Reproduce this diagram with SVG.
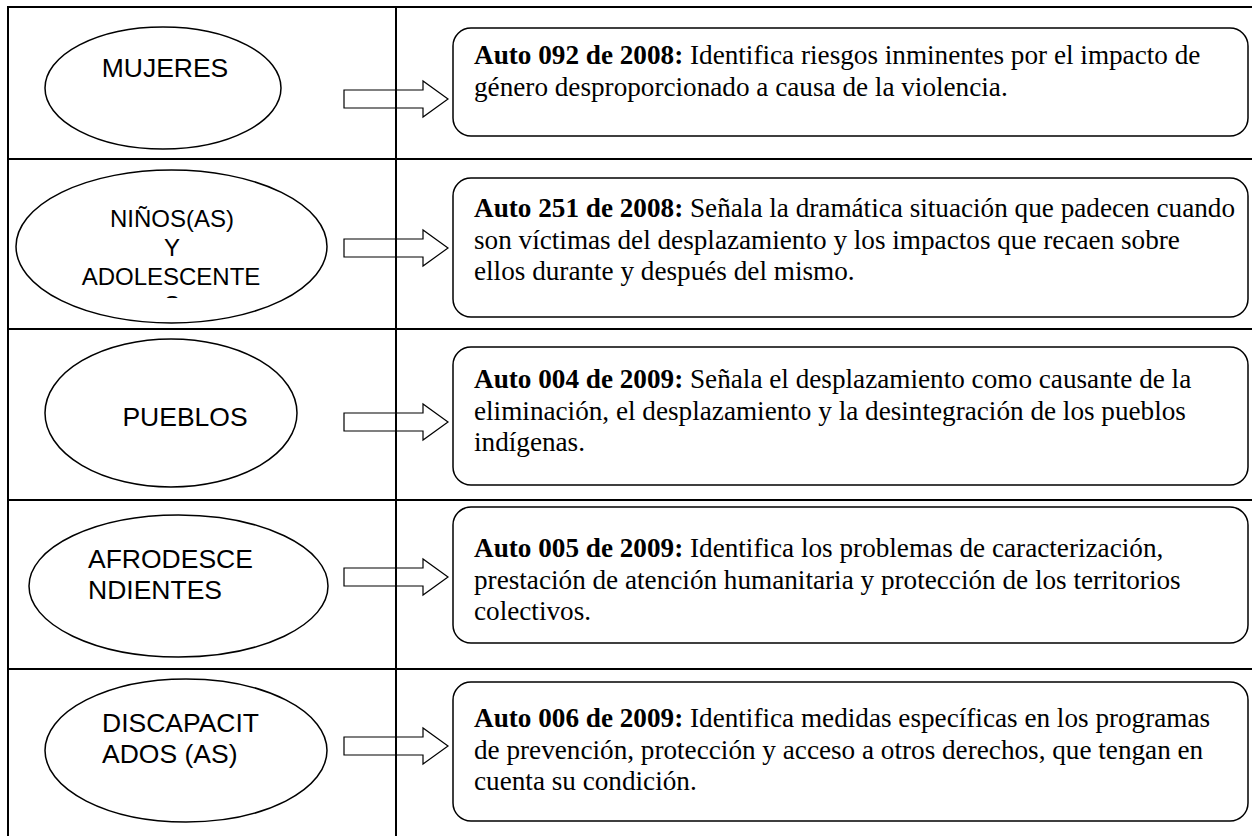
<svg xmlns="http://www.w3.org/2000/svg" width="1252" height="836" viewBox="0 0 1252 836">
<style>
.grid{stroke:#000;stroke-width:2;fill:none}
.ell{fill:#fff;stroke:#000;stroke-width:1.5}
.box{fill:#fff;stroke:#000;stroke-width:1.5}
.arr{fill:none;stroke:#000;stroke-width:1.2;stroke-linejoin:miter}
.lbl{font-family:"Liberation Sans",Arial,sans-serif;font-size:26.5px;fill:#000}
.lbl2{font-family:"Liberation Sans",Arial,sans-serif;font-size:24px;fill:#000}
.txt{font-family:"Liberation Serif","Times New Roman",serif;font-size:27.2px;fill:#000}
.b{font-weight:bold}
</style>
<defs>
<clipPath id="clipNinos"><rect x="0" y="150" width="396" height="148"/></clipPath>
</defs>
<rect x="0" y="0" width="1252" height="836" fill="#fff"/>
<g id="table" class="grid">
<line x1="8" y1="6" x2="8" y2="836"/>
<line x1="396" y1="6" x2="396" y2="836"/>
<line x1="7" y1="7" x2="1252" y2="7"/>
<line x1="7" y1="159" x2="1252" y2="159"/>
<line x1="7" y1="329" x2="1252" y2="329"/>
<line x1="7" y1="500" x2="1252" y2="500"/>
<line x1="7" y1="669" x2="1252" y2="669"/>
</g>
<g id="node-mujeres">
<ellipse class="ell" cx="163" cy="88" rx="118" ry="61"/>
<text class="lbl" x="165" y="77" text-anchor="middle">MUJERES</text>
</g>
<g id="node-ninos">
<ellipse class="ell" cx="171.5" cy="246.5" rx="155.5" ry="76.5"/>
<g clip-path="url(#clipNinos)">
<text class="lbl2" text-anchor="middle"><tspan x="172" y="227">NIÑOS(AS)</tspan><tspan x="172" y="256">Y</tspan><tspan x="171" y="285">ADOLESCENTE</tspan><tspan x="172" y="312.5">S</tspan></text>
</g>
</g>
<g id="node-pueblos">
<ellipse class="ell" cx="171" cy="413" rx="126" ry="74"/>
<text class="lbl" x="185" y="426" text-anchor="middle">PUEBLOS</text>
</g>
<g id="node-afro">
<ellipse class="ell" cx="178.5" cy="586" rx="149.5" ry="71"/>
<text class="lbl"><tspan x="88" y="568">AFRODESCE</tspan><tspan x="88" y="599">NDIENTES</tspan></text>
</g>
<g id="node-discapacitados">
<ellipse class="ell" cx="186" cy="750.5" rx="141" ry="71.5"/>
<text class="lbl"><tspan x="102" y="732">DISCAPACIT</tspan><tspan x="102" y="763">ADOS (AS)</tspan></text>
</g>
<g id="box-auto092">
<rect class="box" x="453" y="28" width="795" height="108" rx="18"/>
<text class="txt"><tspan x="474" y="64"><tspan class="b">Auto 092 de 2008:</tspan> Identifica riesgos inminentes por el impacto de</tspan><tspan x="474" y="95.5">género desproporcionado a causa de la violencia.</tspan></text>
</g>
<g id="box-auto251">
<rect class="box" x="453" y="178" width="795" height="139" rx="18"/>
<text class="txt"><tspan x="474" y="217"><tspan class="b">Auto 251 de 2008:</tspan> Señala la dramática situación que padecen cuando</tspan><tspan x="474" y="248.5">son víctimas del desplazamiento y los impactos que recaen sobre</tspan><tspan x="474" y="280">ellos durante y después del mismo.</tspan></text>
</g>
<g id="box-auto004">
<rect class="box" x="453" y="347" width="795" height="138" rx="18"/>
<text class="txt"><tspan x="474" y="388"><tspan class="b">Auto 004 de 2009:</tspan> Señala el desplazamiento como causante de la</tspan><tspan x="474" y="419.5">eliminación, el desplazamiento y la desintegración de los pueblos</tspan><tspan x="474" y="451">indígenas.</tspan></text>
</g>
<g id="box-auto005">
<rect class="box" x="453" y="507" width="795" height="136" rx="18"/>
<text class="txt"><tspan x="474" y="557"><tspan class="b">Auto 005 de 2009:</tspan> Identifica los problemas de caracterización,</tspan><tspan x="474" y="588.5">prestación de atención humanitaria y protección de los territorios</tspan><tspan x="474" y="620">colectivos.</tspan></text>
</g>
<g id="box-auto006">
<rect class="box" x="453" y="682" width="795" height="139" rx="18"/>
<text class="txt"><tspan x="474" y="727"><tspan class="b">Auto 006 de 2009:</tspan> Identifica medidas específicas en los programas</tspan><tspan x="474" y="758.5">de prevención, protección y acceso a otros derechos, que tengan en</tspan><tspan x="474" y="790">cuenta su condición.</tspan></text>
</g>
<g id="connectors" class="arr">
<path d="M344,90 H423 V81 L448,99 L423,117 V108 H344 Z"/>
<path d="M344,239 H423 V230 L448,248 L423,266 V257 H344 Z"/>
<path d="M344,413 H423 V404 L448,422 L423,440 V431 H344 Z"/>
<path d="M344,568 H423 V559 L448,577 L423,595 V586 H344 Z"/>
<path d="M344,737 H423 V728 L448,746 L423,764 V755 H344 Z"/>
</g>
</svg>
